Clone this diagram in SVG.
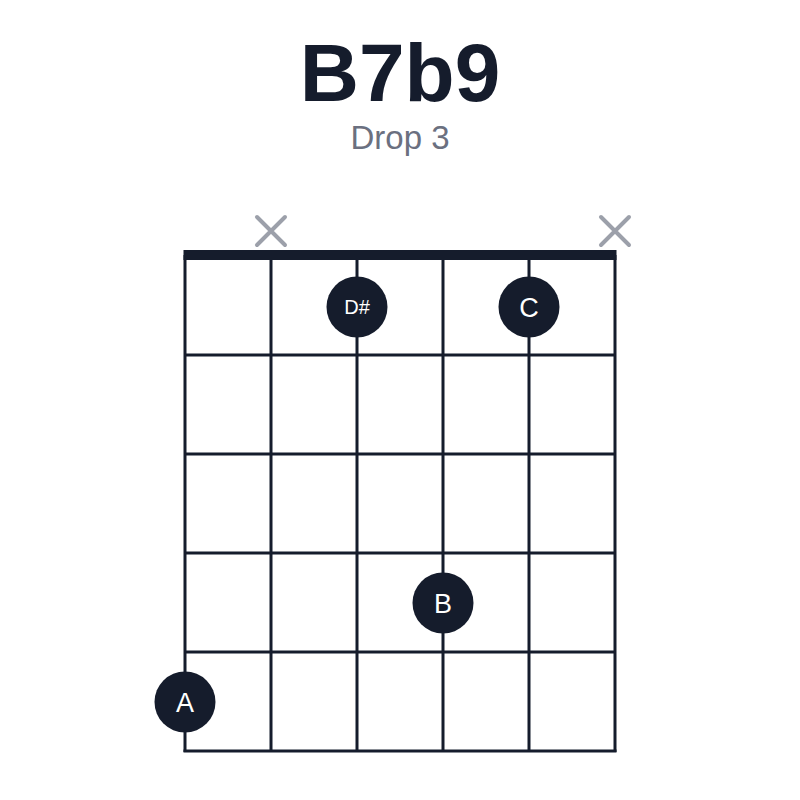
<svg xmlns="http://www.w3.org/2000/svg" width="800" height="800" viewBox="0 0 800 800">
<style>
.str{stroke:#151c2c;stroke-width:3;fill:none}
.nut{stroke:#151c2c;stroke-width:10}
.x{stroke:#9ca0aa;stroke-width:4;stroke-linecap:round}
.dot{fill:#151c2c}
.lbl{fill:#ffffff;font-family:"Liberation Sans",Arial,sans-serif;font-size:27px;text-anchor:middle}
.lbl2{fill:#ffffff;font-family:"Liberation Sans",Arial,sans-serif;font-size:20px;text-anchor:middle}
</style>
<rect width="800" height="800" fill="#ffffff"/>
<text x="400" y="101" text-anchor="middle" font-family="Liberation Sans,Arial,sans-serif" font-weight="bold" font-size="82" fill="#151c2c">B7b9</text>
<text x="400" y="149" text-anchor="middle" font-family="Liberation Sans,Arial,sans-serif" font-size="33" fill="#6b7080">Drop 3</text>
<g id="grid">
<line class="str" x1="185" y1="255" x2="185" y2="752"/>
<line class="str" x1="271" y1="255" x2="271" y2="752"/>
<line class="str" x1="357" y1="255" x2="357" y2="752"/>
<line class="str" x1="443" y1="255" x2="443" y2="752"/>
<line class="str" x1="529" y1="255" x2="529" y2="752"/>
<line class="str" x1="615" y1="255" x2="615" y2="752"/>
<line class="str" x1="185" y1="355" x2="615" y2="355"/>
<line class="str" x1="185" y1="454" x2="615" y2="454"/>
<line class="str" x1="185" y1="553" x2="615" y2="553"/>
<line class="str" x1="185" y1="652" x2="615" y2="652"/>
<line class="str" x1="183.5" y1="751" x2="616.5" y2="751"/>
<line class="nut" x1="183.5" y1="255" x2="616.5" y2="255"/>
</g>
<g id="mute1"><path class="x" d="M257 217 L285 245 M285 217 L257 245"/></g>
<g id="mute6"><path class="x" d="M601 217 L629 245 M629 217 L601 245"/></g>
<g id="dotDs"><circle class="dot" cx="357" cy="307" r="30.5"/><text class="lbl2" x="357" y="314">D#</text></g>
<g id="dotC"><circle class="dot" cx="529" cy="307" r="30.5"/><text class="lbl" x="529" y="316.5">C</text></g>
<g id="dotB"><circle class="dot" cx="443" cy="603" r="30.5"/><text class="lbl" x="443" y="612.5">B</text></g>
<g id="dotA"><circle class="dot" cx="185" cy="702" r="30.5"/><text class="lbl" x="185" y="711.5">A</text></g>
</svg>
